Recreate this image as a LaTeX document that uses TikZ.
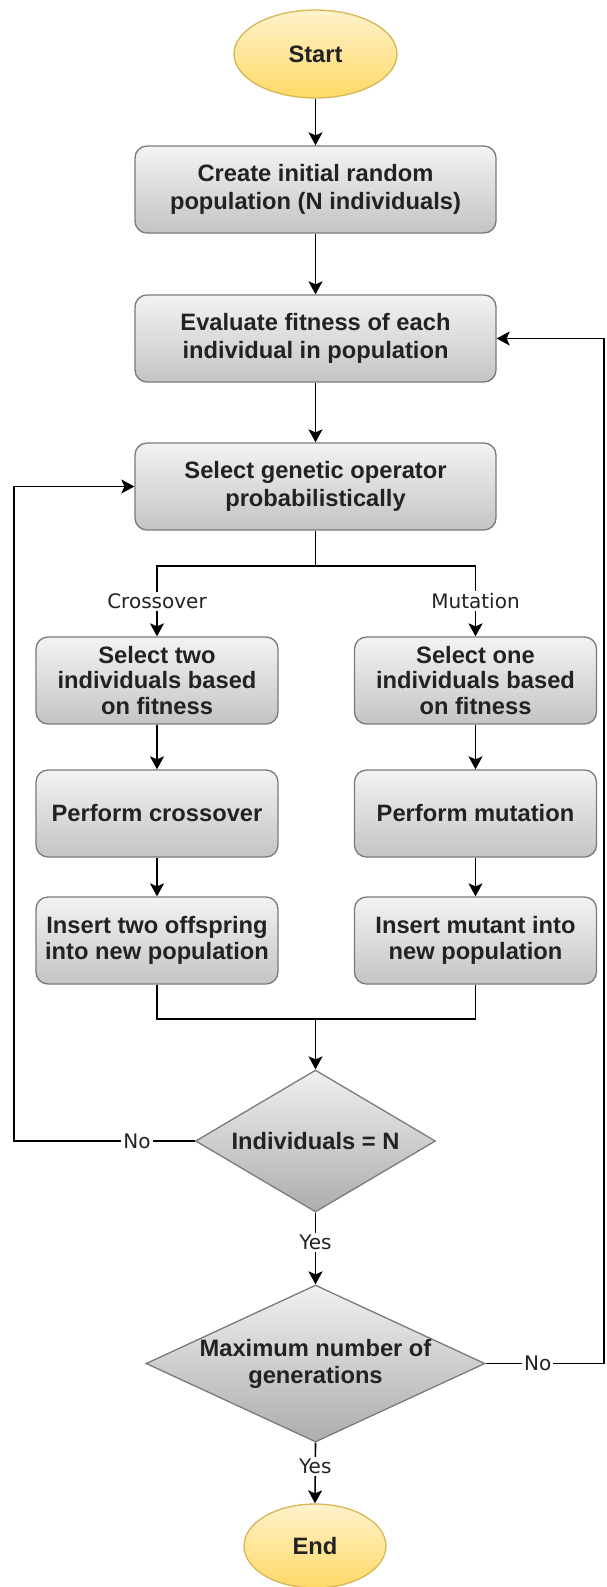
\documentclass[tikz,border=0pt]{standalone}
\usepackage{fontspec}
\setmainfont{Liberation Sans}
\newfontfamily\lblfont{DejaVu Sans}
\usetikzlibrary{shapes.geometric,arrows.meta}
\definecolor{boxtop}{HTML}{F3F3F3}
\definecolor{boxbot}{HTML}{C4C4C4}
\definecolor{boxline}{HTML}{7A7A7A}
\definecolor{dtop}{HTML}{F0F0F0}
\definecolor{dbot}{HTML}{ADADAD}
\definecolor{etop}{HTML}{FFF2CC}
\definecolor{ebot}{HTML}{FFD966}
\definecolor{eline}{HTML}{D6B656}
\definecolor{txt}{HTML}{222222}
\begin{document}
\begin{tikzpicture}[x=1pt,y=-1pt,
  boxnode/.style={rectangle, rounded corners=12pt, draw=boxline, line width=1.3pt,
    top color=boxtop, bottom color=boxbot, minimum width=361pt, minimum height=87pt,
    inner sep=0pt, align=center, text=txt, font=\bfseries\fontsize{23.7}{28.5}\selectfont},
  smallbox/.style={boxnode, minimum width=242pt, font=\bfseries\fontsize{23.7}{25.5}\selectfont},
  decision/.style={diamond, draw=boxline, line width=1.3pt, top color=dtop, bottom color=dbot,
    inner sep=0pt},
  dtext/.style={align=center, text=txt, font=\bfseries\fontsize{23.7}{27}\selectfont},
  term/.style={ellipse, draw=eline, line width=1.3pt, top color=etop, bottom color=ebot,
    inner sep=0pt, text=txt, font=\bfseries\fontsize{23.7}{28}\selectfont},
  arr/.style={draw=black, line width=1.6pt, -{Stealth[length=13pt,width=14pt,inset=3pt]}},
  ln/.style={draw=black, line width=1.6pt},
  lbl/.style={fill=white, inner sep=2pt, text=txt, font=\lblfont\fontsize{20}{24}\selectfont}
]
\useasboundingbox (0,0) rectangle (606,1587);

\node[term, minimum width=163pt, minimum height=88pt] (start) at (315.5,54) {Start};
\node[boxnode] (create) at (315.5,189.5) {Create initial random\\population (N individuals)};
\node[boxnode] (eval) at (315.5,338.5) {Evaluate fitness of each\\individual in population};
\node[boxnode] (sel) at (315.5,486.5) {Select genetic operator\\probabilistically};

\node[smallbox] (l1) at (157,680.5) {Select two\\individuals based\\on fitness};
\node[smallbox] (l2) at (157,813.5) {Perform crossover};
\node[smallbox] (l3) at (157,940.5) {Insert two offspring\\into new population};
\node[smallbox] (r1) at (475.5,680.5) {Select one\\individuals based\\on fitness};
\node[smallbox] (r2) at (475.5,813.5) {Perform mutation};
\node[smallbox] (r3) at (475.5,940.5) {Insert mutant into\\new population};

\node[decision, minimum width=240pt, minimum height=142pt,
  label={[dtext]center:Individuals = N}] (d1) at (315.5,1141) {};
\node[decision, minimum width=339pt, minimum height=157pt,
  label={[dtext]center:Maximum number of\\generations}] (d2) at (315.5,1363.5) {};

\node[term, minimum width=142pt, minimum height=84pt] (end) at (315,1546) {End};

\coordinate (j1) at (315.5,566);
\coordinate (m) at (315.5,1019);
\coordinate (cl) at (14,1141);
\coordinate (cr) at (604,1363.5);

\draw[arr] (start) -- (create);
\draw[arr] (create) -- (eval);
\draw[arr] (eval) -- (sel);
\draw[ln] (sel.south) -- (j1);
\draw[arr] (j1) -| node[lbl, pos=0.75] {Crossover} (l1.north);
\draw[arr] (j1) -| node[lbl, pos=0.75] {Mutation} (r1.north);
\draw[arr] (l1) -- (l2);
\draw[arr] (l2) -- (l3);
\draw[arr] (r1) -- (r2);
\draw[arr] (r2) -- (r3);
\draw[ln] (l3.south) |- (m);
\draw[ln] (r3.south) |- (m);
\draw[arr] (m) -- (d1.north);
\draw[arr] (d1.west) -- node[lbl, pos=0.32] {No} (cl) |- (sel.west);
\draw[arr] (d1.south) -- node[lbl, pos=0.42] {Yes} (d2.north);
\draw[arr] (d2.east) -- node[lbl, pos=0.44] {No} (cr) |- (eval.east);
\draw[arr] (d2.south) -- node[lbl, pos=0.39] {Yes} (end.north);
\end{tikzpicture}
\end{document}
